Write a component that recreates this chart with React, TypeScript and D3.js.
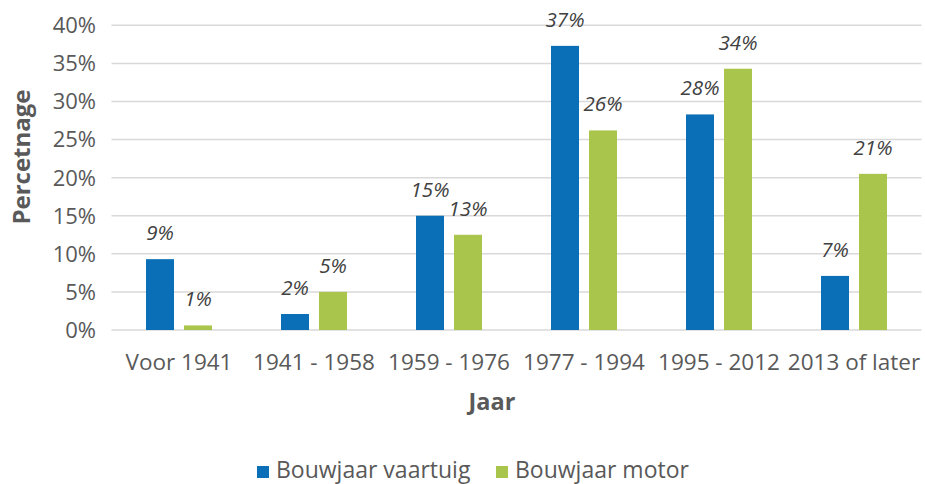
import * as d3 from "d3";

// chart data
const categories = ["Voor 1941", "1941 - 1958", "1959 - 1976", "1977 - 1994", "1995 - 2012", "2013 of later"];
const seriesNames = ["Bouwjaar vaartuig", "Bouwjaar motor"];
const vaartuig = [9.3, 2.1, 15.0, 37.3, 28.3, 7.1];
const motor = [0.6, 5.0, 12.5, 26.2, 34.3, 20.5];
const yTicks = [0, 5, 10, 15, 20, 25, 30, 35, 40];
const colors = ["#0b6fb8", "#a9c54b"];

const width = 925;
const height = 484;
const font = "'Open Sans', 'Noto Sans', sans-serif";

export default function App() {
  const series = [vaartuig, motor];

  const x0 = d3.scaleBand().domain(categories).range([111.5, 921.5]).padding(0);
  const x1 = d3
    .scaleBand()
    .domain(seriesNames)
    .range([x0.bandwidth() / 2 - 33, x0.bandwidth() / 2 + 33])
    .paddingInner(0.263);
  const y = d3.scaleLinear().domain([0, 40]).range([330, 25.3]);

  return (
    <div style={{ position: "fixed", left: 0, top: 0 }}>
      <svg width={width} height={height} style={{ display: "block", background: "#fff", fontFamily: font }}>
        {/* gridlines */}
        {yTicks.map((t) => (
          <g key={t}>
            <line x1={111.5} x2={921.5} y1={y(t)} y2={y(t)} stroke="#d9d9d9" strokeWidth={1.5} />
            <text x={96} y={y(t)} dy="0.36em" textAnchor="end" fontSize={22} fill="#595959">
              {t}%
            </text>
          </g>
        ))}

        {/* bars */}
        {categories.map((c, i) => (
          <g key={c} transform={`translate(${x0(c)},0)`}>
            {seriesNames.map((s, j) => {
              const v = series[j][i];
              const bx = x1(s)!;
              return (
                <g key={s}>
                  <rect x={bx} y={y(v)} width={x1.bandwidth()} height={y(0) - y(v)} fill={colors[j]} />
                  <text
                    x={bx + x1.bandwidth() / 2}
                    y={y(v) - 19}
                    textAnchor="middle"
                    fontSize={20.5}
                    fontStyle="italic"
                    fill="#404040"
                  >
                    {Math.round(v)}%
                  </text>
                </g>
              );
            })}
            <text x={x0.bandwidth() / 2} y={370} textAnchor="middle" fontSize={22.5} fill="#595959">
              {c}
            </text>
          </g>
        ))}

        {/* axis titles */}
        <text
          transform={`translate(30,157) rotate(-90)`}
          textAnchor="middle"
          fontSize={24}
          fontWeight="bold"
          fill="#595959"
        >
          Percetnage
        </text>
        <text x={492} y={410} textAnchor="middle" fontSize={23.5} fontWeight="bold" fill="#595959">
          Jaar
        </text>

        {/* legend */}
        <rect x={257} y={466} width={12} height={12} fill={colors[0]} />
        <text x={276} y={477.5} fontSize={23} fill="#595959">
          {seriesNames[0]}
        </text>
        <rect x={496} y={466} width={12} height={12} fill={colors[1]} />
        <text x={515} y={477.5} fontSize={23} fill="#595959">
          {seriesNames[1]}
        </text>
      </svg>
    </div>
  );
}
